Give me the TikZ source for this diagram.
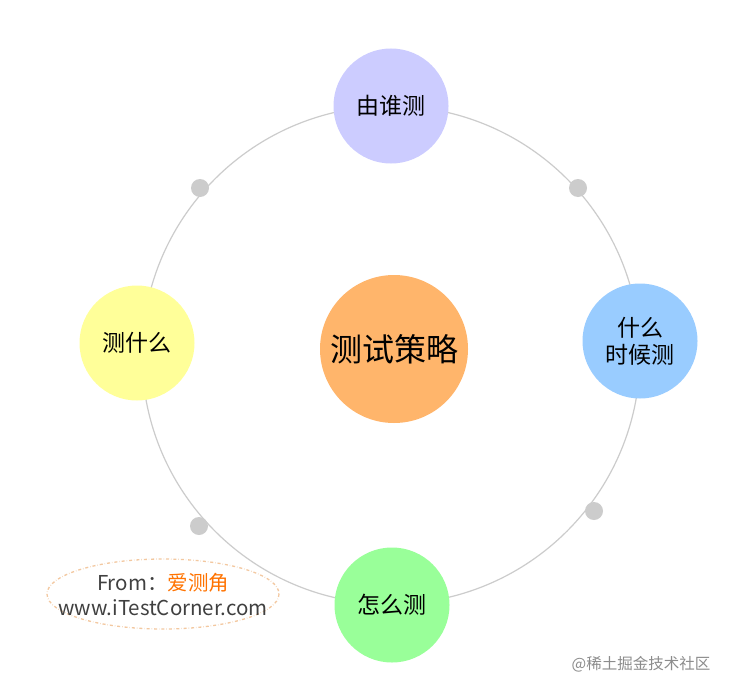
\documentclass[tikz,border=0pt]{standalone}
\usepackage{fontspec}
\setmainfont{Noto Sans CJK SC}
\tikzset{
  bub/.style={circle,minimum size=115pt,inner sep=0pt,align=center,font=\fontsize{23}{27}\selectfont},
  dot/.style={circle,fill=black!20,minimum size=18pt,inner sep=0pt},
}
\begin{document}
\begin{tikzpicture}[x=1pt,y=-1pt]
\useasboundingbox[fill=white] (0,0) rectangle (730,693);
\coordinate (c) at (391,355);
\draw[black!20,line width=1.2pt] (c) circle[radius=249];
\node[dot] (d1) at (200,188) {};
\node[dot] (d2) at (578,188) {};
\node[dot] (d3) at (199,526) {};
\node[dot] (d4) at (594,511) {};
\node[bub,fill={rgb,255:red,204;green,204;blue,255}] (top) at (391,106) {由谁测};
\node[bub,fill={rgb,255:red,255;green,255;blue,153}] (left) at (137,343) {测什么};
\node[bub,fill={rgb,255:red,153;green,204;blue,255}] (right) at (640,341) {什么\\时候测};
\node[bub,fill={rgb,255:red,153;green,255;blue,153}] (bottom) at (392,605) {怎么测};
\node[bub,minimum size=148pt,fill={rgb,255:red,255;green,181;blue,107},font=\fontsize{32}{38}\selectfont] (mid) at (394,349) {测试策略};
\draw[dash dot,line width=1.3pt,color={rgb,255:red,243;green,200;blue,160}] (163,594) ellipse[x radius=116,y radius=35];
\node[align=center,font=\fontsize{20.5}{25}\selectfont,text=black!75] (from) at (163,594) {From：\textcolor{orange!90!red}{爱测角}\\www.iTestCorner.com};
\node[font=\fontsize{15.5}{18}\selectfont,text=black!45] (wm) at (641,664) {@稀土掘金技术社区};
\end{tikzpicture}
\end{document}
